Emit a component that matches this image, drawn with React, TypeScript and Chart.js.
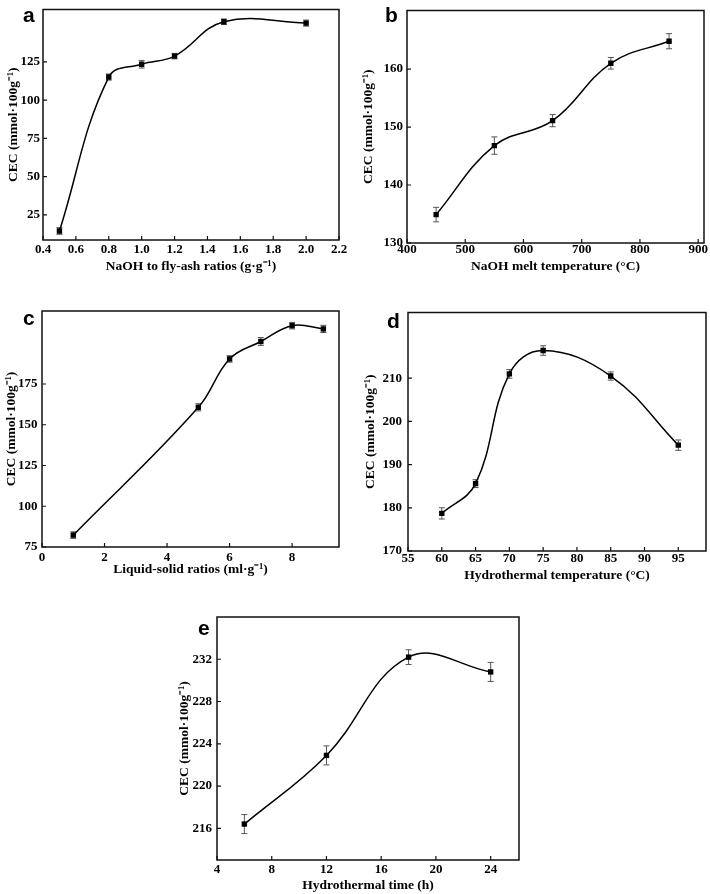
import React, { useEffect, useRef } from "react";
import { Chart, registerables } from "chart.js";
Chart.register(...registerables);

// ---- Data ----
const aX = [0.5, 0.8, 1.0, 1.2, 1.5, 2.0];
const aY = [14.4, 115.1, 123.5, 128.8, 151.3, 150.4];
const aErr = [2.2, 2.0, 2.5, 1.8, 1.8, 2.0];
const aXTicks = [0.4, 0.6, 0.8, 1.0, 1.2, 1.4, 1.6, 1.8, 2.0, 2.2];
const aYTicks = [25, 50, 75, 100, 125];

const bX = [450, 550, 650, 750, 850];
const bY = [134.9, 146.8, 151.1, 161.0, 164.8];
const bErr = [1.25, 1.5, 1.05, 1.0, 1.3];
const bXTicks = [400, 500, 600, 700, 800, 900];
const bYTicks = [130, 140, 150, 160];

const cX = [1, 5, 6, 7, 8, 9];
const cY = [82.3, 160.7, 190.4, 201.1, 210.8, 208.8];
const cErr = [2.0, 2.2, 2.0, 2.4, 2.0, 2.2];
const cXTicks = [0, 2, 4, 6, 8];
const cYTicks = [75, 100, 125, 150, 175];

const dX = [60, 65, 70, 75, 85, 95];
const dY = [178.7, 185.6, 211.0, 216.4, 210.5, 194.5];
const dErr = [1.3, 0.9, 1.0, 1.1, 0.95, 1.2];
const dXTicks = [55, 60, 65, 70, 75, 80, 85, 90, 95];
const dYTicks = [170, 180, 190, 200, 210];

const eX = [6, 12, 18, 24];
const eY = [216.4, 222.9, 232.2, 230.8];
const eErr = [0.9, 0.9, 0.7, 0.9];
const eXTicks = [4, 8, 12, 16, 20, 24];
const eYTicks = [216, 220, 224, 228, 232];

const yTitle = "CEC (mmol·100g⁻¹)";

type Panel = {
  letter: string;
  xs: number[]; ys: number[]; err: number[];
  xTicks: number[]; yTicks: number[];
  xMin: number; xMax: number; yMin: number; yMax: number;
  xDec: number;
  xTitle: string;
  canvas: { x: number; y: number; w: number; h: number };
  area: { l: number; t: number; r: number; b: number };
  yTitleX: number; xTickY: number; xTitleY: number; yGap: number;
  letterPos: { x: number; y: number };
};

const panels: Panel[] = [
  {
    letter: "a", xs: aX, ys: aY, err: aErr, xTicks: aXTicks, yTicks: aYTicks,
    xMin: 0.4, xMax: 2.2, yMin: 8.5, yMax: 159.3, xDec: 1,
    xTitle: "NaOH to fly-ash ratios (g·g⁻¹)",
    canvas: { x: 0, y: 0, w: 355, h: 300 }, area: { l: 43, t: 3, r: 339, b: 240 },
    yTitleX: 13.3, xTickY: 249.3, xTitleY: 266.7, yGap: 3, letterPos: { x: 23, y: 22 },
  },
  {
    letter: "b", xs: bX, ys: bY, err: bErr, xTicks: bXTicks, yTicks: bYTicks,
    xMin: 400, xMax: 910, yMin: 130, yMax: 170.1, xDec: 0,
    xTitle: "NaOH melt temperature (°C)",
    canvas: { x: 355, y: 0, w: 355, h: 300 }, area: { l: 407, t: 3, r: 704, b: 243 },
    yTitleX: 368.3, xTickY: 250, xTitleY: 266.7, yGap: 4, letterPos: { x: 385, y: 22 },
  },
  {
    letter: "c", xs: cX, ys: cY, err: cErr, xTicks: cXTicks, yTicks: cYTicks,
    xMin: 0, xMax: 9.5, yMin: 75, yMax: 219.8, xDec: 0,
    xTitle: "Liquid-solid ratios (ml·g⁻¹)",
    canvas: { x: 0, y: 300, w: 355, h: 300 }, area: { l: 42, t: 308, r: 339, b: 547 },
    yTitleX: 11.7, xTickY: 557.3, xTitleY: 570, yGap: 4.5, letterPos: { x: 23, y: 325 },
  },
  {
    letter: "d", xs: dX, ys: dY, err: dErr, xTicks: dXTicks, yTicks: dYTicks,
    xMin: 55, xMax: 99.1, yMin: 170, yMax: 225.2, xDec: 0,
    xTitle: "Hydrothermal temperature (°C)",
    canvas: { x: 355, y: 300, w: 355, h: 300 }, area: { l: 408, t: 308, r: 707, b: 551 },
    yTitleX: 371, xTickY: 558.3, xTitleY: 576, yGap: 6, letterPos: { x: 387, y: 328 },
  },
  {
    letter: "e", xs: eX, ys: eY, err: eErr, xTicks: eXTicks, yTicks: eYTicks,
    xMin: 4, xMax: 26.07, yMin: 213, yMax: 236, xDec: 0,
    xTitle: "Hydrothermal time (h)",
    canvas: { x: 175, y: 600, w: 355, h: 300 }, area: { l: 217, t: 617, r: 519, b: 860 },
    yTitleX: 185, xTickY: 869.3, xTitleY: 886, yGap: 5, letterPos: { x: 198, y: 635 },
  },
];

const SERIF = '"Liberation Serif", "Times New Roman", serif';
const TICK_SIZE = 13;
const TITLE_SIZE = 13.5;
const TITLE_LH = 1.2;

function PanelChart({ p }: { p: Panel }) {
  const ref = useRef<HTMLCanvasElement | null>(null);
  useEffect(() => {
    if (!ref.current) return;
    const c = p.canvas;
    const a = p.area;
    const halfTitle = (TITLE_SIZE * TITLE_LH) / 2;
    const decor = {
      id: "decor",
      beforeDatasetsDraw(chart: any) {
        const { ctx, scales } = chart;
        const x = scales.x, y = scales.y;
        ctx.save();
        ctx.strokeStyle = "#555";
        ctx.lineWidth = 1;
        p.xs.forEach((xv, i) => {
          const px = x.getPixelForValue(xv);
          const top = y.getPixelForValue(p.ys[i] + p.err[i]);
          const bot = y.getPixelForValue(p.ys[i] - p.err[i]);
          ctx.beginPath();
          ctx.moveTo(px, top); ctx.lineTo(px, bot);
          ctx.moveTo(px - 3, top); ctx.lineTo(px + 3, top);
          ctx.moveTo(px - 3, bot); ctx.lineTo(px + 3, bot);
          ctx.stroke();
        });
        ctx.restore();
      },
      afterDraw(chart: any) {
        const { ctx, chartArea, scales } = chart;
        const { left, right, top, bottom } = chartArea;
        ctx.save();
        ctx.strokeStyle = "#111";
        ctx.lineWidth = 1.5;
        ctx.strokeRect(left, top, right - left, bottom - top);
        ctx.lineWidth = 1.2;
        ctx.beginPath();
        scales.x.ticks.forEach((t: any) => {
          const px = scales.x.getPixelForValue(t.value);
          ctx.moveTo(px, bottom); ctx.lineTo(px, bottom - 4);
        });
        scales.y.ticks.forEach((t: any) => {
          const py = scales.y.getPixelForValue(t.value);
          ctx.moveTo(left, py); ctx.lineTo(left + 4, py);
        });
        ctx.stroke();
        ctx.fillStyle = "#000";
        ctx.font = 'bold 21px "Liberation Sans", Arial, sans-serif';
        ctx.textBaseline = "alphabetic";
        ctx.textAlign = "left";
        ctx.fillText(p.letter, p.letterPos.x - c.x, p.letterPos.y - c.y);
        ctx.restore();
      },
    };
    const chart = new Chart(ref.current, {
      type: "line",
      data: {
        datasets: [
          {
            data: p.xs.map((xv, i) => ({ x: xv, y: p.ys[i] })),
            borderColor: "#000",
            backgroundColor: "#000",
            borderWidth: 1.5,
            tension: 0.4,
            pointStyle: "rect",
            pointRadius: 3.8,
            pointBorderWidth: 0,
            pointBackgroundColor: "#000",
            fill: false,
          },
        ],
      },
      options: {
        animation: false,
        responsive: false,
        events: [],
        layout: {
          padding: { left: 0, top: a.t - c.y, right: c.x + c.w - a.r, bottom: 0 },
        },
        plugins: { legend: { display: false }, tooltip: { enabled: false } },
        scales: {
          x: {
            type: "linear",
            min: p.xMin,
            max: p.xMax,
            grid: { display: false, drawTicks: false, tickLength: 0 },
            border: { display: false },
            afterBuildTicks: (s: any) => { s.ticks = p.xTicks.map((v) => ({ value: v })); },
            afterFit: (s: any) => { s.height = c.y + c.h - a.b; },
            ticks: {
              autoSkip: false,
              maxRotation: 0,
              color: "#000",
              padding: p.xTickY - a.b - TICK_SIZE / 2,
              font: { family: SERIF, size: TICK_SIZE, weight: "bold", lineHeight: 1 },
              callback: (v: any) => Number(v).toFixed(p.xDec),
            },
            title: {
              display: true,
              text: p.xTitle,
              color: "#000",
              font: { family: SERIF, size: TITLE_SIZE, weight: "bold", lineHeight: TITLE_LH },
              padding: { top: 0, bottom: c.y + c.h - p.xTitleY - halfTitle },
            },
          },
          y: {
            type: "linear",
            min: p.yMin,
            max: p.yMax,
            grid: { display: false, drawTicks: false, tickLength: 0 },
            border: { display: false },
            afterBuildTicks: (s: any) => { s.ticks = p.yTicks.map((v) => ({ value: v })); },
            afterFit: (s: any) => { s.width = a.l - c.x; },
            ticks: {
              autoSkip: false,
              color: "#000",
              padding: p.yGap,
              font: { family: SERIF, size: TICK_SIZE, weight: "bold", lineHeight: 1 },
              callback: (v: any) => String(v),
            },
            title: {
              display: true,
              text: yTitle,
              color: "#000",
              font: { family: SERIF, size: TITLE_SIZE, weight: "bold", lineHeight: TITLE_LH },
              padding: { top: Math.max(0, p.yTitleX - c.x - halfTitle), bottom: 0 },
            },
          },
        },
      },
      plugins: [decor],
    } as any);
    return () => chart.destroy();
  }, [p]);
  return (
    <canvas
      ref={ref}
      width={p.canvas.w}
      height={p.canvas.h}
      style={{
        position: "absolute",
        left: p.canvas.x,
        top: p.canvas.y,
        width: p.canvas.w,
        height: p.canvas.h,
      }}
    />
  );
}

export default function App() {
  return (
    <div
      style={{
        position: "absolute",
        left: 0,
        top: 0,
        width: 710,
        height: 894,
        overflow: "hidden",
        background: "#fff",
      }}
    >
      {panels.map((p) => (
        <PanelChart key={p.letter} p={p} />
      ))}
    </div>
  );
}
